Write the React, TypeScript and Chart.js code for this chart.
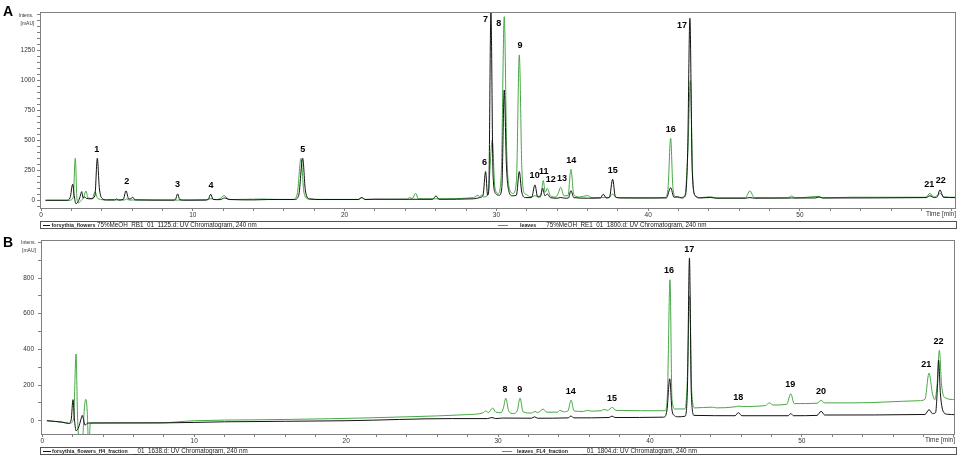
import React, { useEffect, useRef } from 'react';
import { Chart, registerables } from 'chart.js';
Chart.register(...registerables);

type Pt = [number, number];

// ---- Panel A traces: [time (min), intensity (mAU)] ----
const flowersA: Pt[] = [
  [0.3,3],[1.7,3],[1.92,25],[2.09,137],[2.2,30],[2.3,-25],[2.45,-8],[2.58,35],[2.68,75],[2.78,22],[2.88,30],[3.0,18],[3.3,15],[3.55,40],[3.71,353],[3.84,110],[4.0,22],[4.3,6],[4.85,6],[4.98,14],[5.12,5],[5.42,10],[5.6,81],[5.78,14],[5.92,16],[6.04,28],[6.2,6],[8.7,4],[8.86,10],[9.0,56],[9.14,9],[9.4,4],[10.8,4],[11.02,10],[11.18,53],[11.34,10],[11.8,8],[12.1,22],[12.4,9],[14.0,6],[15.0,9],[16.7,9],[16.98,45],[17.24,353],[17.42,80],[17.7,13],[18.5,9],[20.9,9],[21.13,25],[21.35,9],[22.0,12],[24.5,11],[25.8,11],[26.02,39],[26.22,11],[28.5,15],[28.9,25],[29.12,45],[29.29,242],[29.42,45],[29.5,90],[29.64,1570],[29.78,220],[29.95,60],[30.2,45],[30.36,110],[30.52,922],[30.66,300],[30.82,80],[31.05,40],[31.32,45],[31.51,242],[31.66,80],[31.9,25],[32.32,25],[32.54,131],[32.72,30],[32.9,32],[33.05,103],[33.2,40],[33.36,55],[33.55,25],[34.0,20],[34.24,26],[34.5,20],[34.75,22],[34.91,83],[35.1,25],[36.0,20],[36.85,22],[37.04,53],[37.25,22],[37.45,28],[37.66,178],[37.84,32],[38.2,22],[41.2,22],[41.48,108],[41.7,28],[41.95,32],[42.2,22],[42.45,40],[42.6,400],[42.75,1520],[42.9,260],[43.1,42],[43.4,22],[44.1,26],[44.5,20],[46.4,20],[46.7,25],[47.0,20],[49.45,22],[51.0,22],[51.25,30],[51.5,22],[58.3,25],[58.56,40],[58.85,25],[59.05,32],[59.22,89],[59.45,28],[60.25,25]
];
const leavesA: Pt[] = [
  [0.3,2],[1.85,2],[2.12,25],[2.26,353],[2.36,30],[2.45,-20],[2.62,-3],[2.82,30],[2.96,80],[3.1,22],[3.38,18],[3.56,75],[3.7,25],[3.92,10],[4.3,5],[5.5,5],[5.65,14],[5.8,5],[9.0,4],[10.9,8],[11.2,16],[11.5,8],[11.8,16],[12.06,42],[12.32,15],[12.6,9],[14.5,13],[15.5,10],[16.6,10],[16.88,55],[17.13,353],[17.32,70],[17.6,15],[18.5,10],[20.9,10],[21.13,25],[21.4,10],[24.1,12],[24.3,26],[24.45,15],[24.68,61],[24.86,15],[26.0,15],[28.5,25],[28.8,45],[28.9,30],[29.0,45],[29.18,30],[29.45,55],[29.73,505],[29.9,110],[30.12,60],[30.32,220],[30.52,1533],[30.68,420],[30.86,100],[31.1,60],[31.32,160],[31.51,1214],[31.68,260],[31.86,60],[32.0,50],[32.2,30],[32.54,40],[32.8,35],[32.96,65],[33.09,167],[33.22,70],[33.36,103],[33.55,40],[33.9,30],[34.06,55],[34.24,111],[34.45,40],[34.72,42],[34.91,261],[35.1,50],[35.5,30],[35.99,42],[36.3,25],[37.4,25],[37.66,55],[37.9,25],[40.1,22],[41.1,26],[41.3,90],[41.48,520],[41.63,110],[41.82,30],[42.05,25],[42.42,45],[42.62,420],[42.78,1000],[42.93,210],[43.1,40],[43.5,25],[44.1,32],[44.5,22],[46.4,22],[46.7,81],[47.0,25],[49.2,22],[49.45,38],[49.7,22],[51.25,35],[51.5,22],[53.4,28],[58.3,28],[58.56,61],[58.8,30],[59.08,45],[59.25,60],[59.5,30],[60.25,28]
];

// ---- Panel B traces ----
const flowersB: Pt[] = [
  [0.3,0],[1.3,-8],[1.75,-15],[1.9,5],[2.02,118],[2.12,5],[2.22,-56],[2.4,-35],[2.55,10],[2.63,30],[2.72,5],[2.81,-25],[2.99,-13],[8.0,-12],[12.0,-6],[20.0,0],[27.0,12],[29.3,12],[29.6,18],[29.85,12],[30.3,15],[32.2,14],[32.4,22],[32.6,14],[34.6,16],[34.8,26],[35.0,16],[37.3,18],[37.5,26],[37.7,18],[40.9,20],[41.12,60],[41.3,235],[41.45,60],[41.62,28],[41.85,22],[42.3,25],[42.46,160],[42.6,912],[42.72,160],[42.9,30],[45.6,28],[45.82,45],[46.05,28],[49.1,28],[49.27,40],[49.45,28],[51.0,30],[51.27,53],[51.5,32],[58.1,35],[58.37,62],[58.6,40],[58.8,45],[58.93,200],[59.0,340],[59.12,150],[59.35,45],[59.6,36],[60.1,34]
];
const leavesB: Pt[] = [
  [0.3,0],[1.3,-8],[1.8,-15],[2.06,10],[2.22,374],[2.32,20],[2.4,-85],[2.66,-85],[2.76,60],[2.86,120],[2.96,50],[3.02,-85],[3.1,-85],[3.16,-12],[7.7,-12],[10.0,0],[14.0,5],[18.9,11],[24.0,22],[27.9,34],[29.0,44],[29.19,55],[29.35,45],[29.65,71],[29.85,48],[30.2,45],[30.35,70],[30.51,127],[30.7,55],[31.0,40],[31.26,55],[31.45,127],[31.65,50],[32.2,43],[32.43,52],[32.6,45],[32.98,65],[33.2,48],[33.9,48],[34.08,58],[34.3,50],[34.6,55],[34.81,116],[35.0,55],[35.6,52],[35.88,58],[36.1,54],[36.8,56],[36.98,64],[37.2,58],[37.53,75],[37.75,58],[41.0,56],[41.15,150],[41.32,790],[41.45,120],[41.65,66],[42.3,66],[42.45,210],[42.62,700],[42.75,160],[42.95,72],[44.1,76],[44.4,72],[45.6,78],[45.82,82],[46.1,80],[47.6,85],[47.86,100],[48.1,88],[49.0,92],[49.27,151],[49.5,96],[51.0,98],[51.27,114],[51.5,100],[53.4,100],[57.7,112],[58.1,120],[58.37,267],[58.6,150],[58.75,118],[58.9,200],[59.05,395],[59.2,200],[59.4,130],[60.1,118]
];

// ---- Peak annotations ----
const peakNamesA = ['1','2','3','4','5','6','7','8','9','10','11','12','13','14','15','16','17','21','22'];
const peakTimesA = [3.67,5.65,9.0,11.2,17.24,29.22,29.64,30.52,31.56,32.52,33.12,33.58,34.32,34.93,37.66,41.48,42.75,58.52,59.27];
const peakHeightsA = [353,81,56,53,353,242,1570,1533,1214,131,167,103,111,261,178,520,1520,61,89];

const peakNamesB = ['8','9','14','15','16','17','18','19','20','21','22'];
const peakTimesB = [30.46,31.43,34.79,37.5,41.26,42.59,45.82,49.24,51.26,58.18,59.0];
const peakHeightsB = [127,127,116,75,790,912,82,151,114,267,395];

// ---- Axis tick labels ----
const yLabelsA = [0, 250, 500, 750, 1000, 1250];
const yLabelsB = [0, 200, 400, 600, 800];
const xLabels = [0, 10, 20, 30, 40, 50];

const legendA = [
  { name: 'forsythia_flowers', rest: '75%MeOH_RB1_01_1125.d: UV Chromatogram, 240 nm' },
  { name: 'leaves', rest: '_75%MeOH_RE1_01_1800.d: UV Chromatogram, 240 nm' },
];
const legendB = [
  { name: 'forsythia_flowers_ff4_fraction', rest: '_01_1638.d: UV Chromatogram, 240 nm' },
  { name: 'leaves_FL4_fraction', rest: '_01_1804.d: UV Chromatogram, 240 nm' },
];

const BLACK = '#111111';
const GREEN = '#45a845';
const AXIS = '#808080';
const FONT = '"Liberation Sans", Arial, sans-serif';

const framePlugin = {
  id: 'frame',
  afterDraw(chart: any) {
    const { ctx, chartArea: a } = chart;
    ctx.save();
    ctx.strokeStyle = AXIS;
    ctx.lineWidth = 1;
    ctx.strokeRect(Math.round(a.left) + 0.5, Math.round(a.top) + 0.5, Math.round(a.right - a.left) - 1, Math.round(a.bottom - a.top) - 1);
    ctx.restore();
  },
};

const peakLabelPlugin = {
  id: 'peakLabels',
  afterDatasetsDraw(chart: any, _args: any, opts: any) {
    const { ctx, chartArea, scales } = chart;
    const x = scales.x, y = scales.y;
    ctx.save();
    ctx.font = `bold 9px ${FONT}`;
    ctx.fillStyle = '#000';
    ctx.textBaseline = 'middle';
    opts.names.forEach((name: string, i: number) => {
      const px = x.getPixelForValue(opts.times[i]);
      const apex = y.getPixelForValue(opts.heights[i]);
      const ly = apex - 9;
      if (ly < chartArea.top + 6) {
        ctx.textAlign = 'right';
        ctx.fillText(name, px - 3, apex + 7);
      } else {
        ctx.textAlign = 'center';
        ctx.fillText(name, px, ly);
      }
    });
    ctx.restore();
  },
};

function stepTicks(min: number, max: number, step: number) {
  const out: { value: number }[] = [];
  for (let k = Math.ceil(min / step); k * step <= max + 1e-9; k++) out.push({ value: k * step });
  return out;
}

function buildConfig(p: any) {
  const ds = (label: string, data: Pt[], color: string) => ({
    label,
    data: data.map(([x, y]) => ({ x, y })),
    borderColor: color,
    backgroundColor: color,
    borderWidth: 1,
    pointRadius: 0,
    fill: false,
    cubicInterpolationMode: 'monotone',
  });
  return {
    type: 'line',
    data: {
      datasets: [
        ds(p.legend[0].name + p.legend[0].rest, p.black, BLACK),
        ds(p.legend[1].name + p.legend[1].rest, p.green, GREEN),
      ],
    },
    options: {
      animation: false,
      responsive: false,
      maintainAspectRatio: false,
      parsing: false,
      layout: { padding: p.padding },
      plugins: {
        legend: { display: false },
        tooltip: { enabled: false },
        peakLabels: { names: p.names, times: p.times, heights: p.heights },
      },
      scales: {
        x: {
          type: 'linear',
          min: p.xMin,
          max: p.xMax,
          border: { display: false },
          grid: { drawOnChartArea: false, drawTicks: true, tickLength: 2, tickColor: AXIS, color: AXIS },
          afterBuildTicks: (s: any) => { s.ticks = stepTicks(p.xMin, p.xMax, 2); },
          ticks: {
            autoSkip: false,
            maxRotation: 0,
            padding: 0,
            color: '#333',
            font: { size: 6.5, family: FONT },
            callback: (v: number) => (xLabels.includes(v) ? String(v) : ''),
          },
          title: { display: true, text: 'Time [min]', align: 'end', color: '#333', font: { size: 6.5, family: FONT }, padding: { top: 0, bottom: 3 } },
          afterFit: (s: any) => { s.height = 12; },
        },
        y: {
          type: 'linear',
          min: p.yMin,
          max: p.yMax,
          border: { display: false },
          grid: { drawOnChartArea: false, drawTicks: true, tickLength: 3, tickColor: AXIS, color: AXIS },
          afterBuildTicks: (s: any) => { s.ticks = stepTicks(p.yMin, p.yMax, p.yStep); },
          ticks: {
            autoSkip: false,
            padding: p.yPad,
            color: '#333',
            font: { size: 6.5, family: FONT },
            callback: (v: number) => (p.yLabels.includes(v) ? String(v) : ''),
          },
          afterFit: (s: any) => { s.width = p.yWidth; },
        },
      },
    },
    plugins: [framePlugin, peakLabelPlugin],
  };
}

const abs = (left: number, top: number, extra: any = {}) => ({ position: 'absolute' as const, left, top, whiteSpace: 'nowrap' as const, ...extra });

function Legend({ top, items, xs }: { top: number; items: { name: string; rest: string }[]; xs: number[][] }) {
  const h = 8;
  return (
    <>
      <div style={abs(40, top, { width: 917, height: h, boxSizing: 'border-box', border: '1px solid #555' })} />
      {items.map((it, i) => (
        <React.Fragment key={i}>
          <div style={abs(xs[i][0], top + 3.5, { width: xs[i][1] - xs[i][0], height: 1, background: i === 0 ? BLACK : GREEN })} />
          <div style={abs(xs[i][2], top, { height: h, lineHeight: `${h}px`, fontSize: 5.3, fontWeight: 700, color: '#222' })}>{it.name}</div>
          <div style={abs(xs[i][3], top, { height: h, lineHeight: `${h}px`, fontSize: 6.3, color: '#222' })}>{it.rest}</div>
        </React.Fragment>
      ))}
    </>
  );
}

export default function App() {
  const refA = useRef<HTMLCanvasElement>(null);
  const refB = useRef<HTMLCanvasElement>(null);

  useEffect(() => {
    const a = new Chart(refA.current as any, buildConfig({
      black: flowersA, green: leavesA, legend: legendA,
      names: peakNamesA, times: peakTimesA, heights: peakHeightsA,
      xMin: -0.066, xMax: 60.28, yMin: -70, yMax: 1572, yStep: 50, yLabels: yLabelsA, yWidth: 40, yPad: 2,
      padding: { left: 0, right: 6, top: 12, bottom: 9 },
    }) as any);
    const b = new Chart(refB.current as any, buildConfig({
      black: flowersB, green: leavesB, legend: legendB,
      names: peakNamesB, times: peakTimesB, heights: peakHeightsB,
      xMin: -0.086, xMax: 60.08, yMin: -80, yMax: 1013, yStep: 100, yLabels: yLabelsB, yWidth: 41, yPad: 4,
      padding: { left: 0, right: 7, top: 10, bottom: 11 },
    }) as any);
    return () => { a.destroy(); b.destroy(); };
  }, []);

  const letter = (top: number) => abs(3, top, { fontSize: 14, fontWeight: 700, lineHeight: 1, color: '#000' });
  const small = (left: number, top: number) => abs(left, top, { fontSize: 5, lineHeight: '6px', color: '#333' });

  return (
    <div style={{ position: 'absolute', left: 0, top: 0, width: 962, height: 458, background: '#fff', overflow: 'hidden', fontFamily: FONT }}>
      <canvas ref={refA} width={962} height={230} style={{ position: 'absolute', left: 0, top: 0 }} />
      <canvas ref={refB} width={962} height={228} style={{ position: 'absolute', left: 0, top: 230 }} />
      <div style={letter(4)}>A</div>
      <div style={letter(234.5)}>B</div>
      <div style={small(18.5, 12)}>Intens.</div>
      <div style={small(20.5, 20)}>[mAU]</div>
      <div style={small(21, 239)}>Intens.</div>
      <div style={small(22, 247)}>[mAU]</div>
      <Legend top={221} items={legendA} xs={[[43, 50, 51.5, 97], [498, 508, 520, 542.7]]} />
      <Legend top={447} items={legendB} xs={[[43, 51, 52, 134], [502, 512, 517, 583.3]]} />
    </div>
  );
}
